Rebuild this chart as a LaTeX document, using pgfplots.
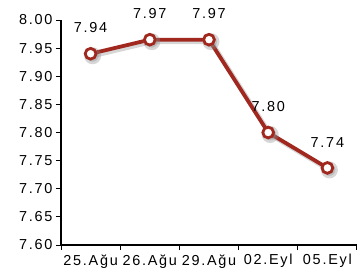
\documentclass[border=0pt]{standalone}
\usepackage{pgfplots}
\pgfplotsset{compat=1.18}
\usepackage{fontspec}
\setmainfont{Liberation Sans}[LetterSpace=12]
\definecolor{lred}{HTML}{A0281E}
\begin{document}
\begin{tikzpicture}
\useasboundingbox (-61bp,-33bp) rectangle (296bp,245bp);
\begin{axis}[
  at={(0,0)}, anchor=south west,
  scale only axis, width=296bp, height=225bp,
  xmin=-0.5, xmax=4.5, ymin=7.60, ymax=8.00,
  axis x line*=bottom, axis y line*=left,
  axis line style={black, line width=1.2pt, -},
  xtick={-0.5,0.5,1.5,2.5,3.5,4.5}, xticklabels={},
  extra x ticks={0,1,2,3,4},
  extra x tick labels={25.Ağu,26.Ağu,29.Ağu,02.Eyl,05.Eyl},
  extra x tick style={major tick length=0pt, xticklabel style={yshift=-6bp}},
  ytick={7.60,7.65,7.70,7.75,7.80,7.85,7.90,7.95,8.00},
  yticklabel style={/pgf/number format/.cd, fixed, fixed zerofill, precision=2},
  /pgf/number format/assume math mode=true,
  tick style={black, line width=1pt},
  major tick length=5bp,
  tick align=outside,
  font=\fontsize{14.5}{16}\selectfont,
  ticklabel style={font=\fontsize{14.5}{16}\selectfont},
  clip=false,
]
\addplot[black!45, opacity=0.35, line width=5pt, xshift=2pt, yshift=-2pt,
  mark=*, mark size=6pt, mark options={black!45}]
  coordinates {(0,7.94) (1,7.965) (2,7.965) (3,7.80) (4,7.737)};
\addplot[lred, line width=3.8pt, mark=*, mark size=5.4pt,
  mark options={fill=white, draw=lred, line width=2.8pt},
  nodes near coords={\pgfmathprintnumber[fixed,fixed zerofill,precision=2]{\pgfplotspointmeta}},
  point meta=explicit,
  every node near coord/.append style={black, anchor=south, yshift=16bp, font=\fontsize{14.5}{16}\selectfont}]
  coordinates {(0,7.94)[7.94] (1,7.965)[7.97] (2,7.965)[7.97] (3,7.80)[7.80] (4,7.737)[7.74]};
\end{axis}
\end{tikzpicture}
\end{document}
